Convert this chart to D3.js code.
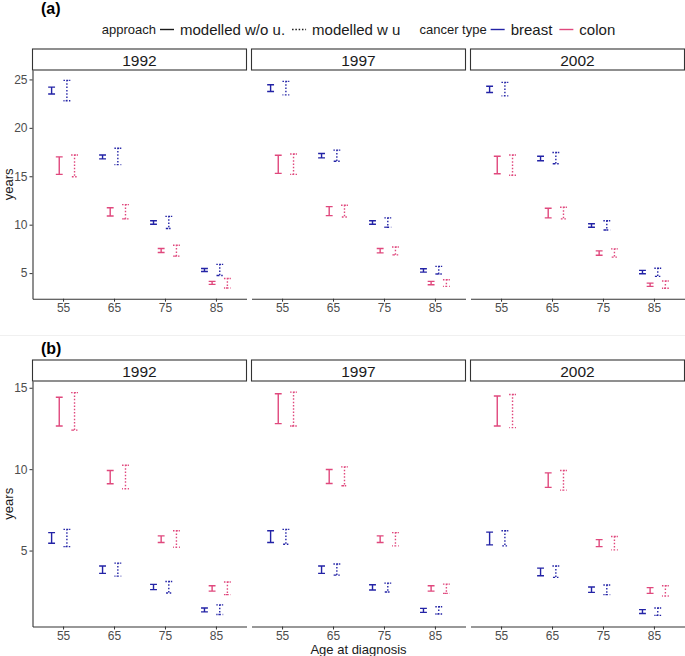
<!DOCTYPE html>
<html><head><meta charset="utf-8">
<script src="https://cdn.jsdelivr.net/npm/d3@7"></script>
<style>body{margin:0;background:#fff} svg{display:block} text{font-family:"Liberation Sans",Arial,sans-serif}</style>
</head><body><svg id="c" width="685" height="656"></svg>
<script>
// ---------- data ----------
const years = ["1992", "1997", "2002"];
const ages = ["55", "65", "75", "85"];
const cancers = ["breast", "colon"];
const approaches = ["modelled w/o u.", "modelled w u"];
const yTicksA = [5, 10, 15, 20, 25];
const yTicksB = [5, 10, 15];

// each row = one year (1992, 1997, 2002); each pair = [lower, upper] per age 55,65,75,85
// (a)
const aBreastWo = [
  [[23.5, 24.2], [16.8, 17.2], [10.04, 10.4], [5.17, 5.48]],
  [[23.76, 24.45], [16.9, 17.35], [10.04, 10.4], [5.1, 5.45]],
  [[23.65, 24.3], [16.6, 17.07], [9.73, 10.1], [4.93, 5.28]]
];
const aBreastWu = [
  [[22.8, 24.9], [16.2, 17.9], [9.6, 10.86], [4.76, 5.9]],
  [[23.4, 24.8], [16.55, 17.7], [9.73, 10.7], [4.9, 5.69]],
  [[23.3, 24.7], [16.3, 17.45], [9.45, 10.4], [4.66, 5.5]]
];
const aColonWo = [
  [[15.2, 17.0], [10.9, 11.75], [7.13, 7.54], [3.84, 4.15]],
  [[15.3, 17.17], [10.94, 11.86], [7.09, 7.54], [3.8, 4.15]],
  [[15.26, 17.07], [10.7, 11.7], [6.85, 7.3], [3.63, 3.97]]
];
const aColonWu = [
  [[14.95, 17.2], [10.6, 12.07], [6.75, 7.88], [3.46, 4.45]],
  [[15.2, 17.3], [10.8, 12.0], [6.88, 7.7], [3.63, 4.31]],
  [[15.1, 17.2], [10.6, 11.8], [6.65, 7.5], [3.43, 4.18]]
];
// (b)
const bBreastWo = [
  [[5.45, 6.1], [3.6, 4.05], [2.6, 2.92], [1.23, 1.47]],
  [[5.49, 6.22], [3.6, 4.05], [2.58, 2.9], [1.2, 1.45]],
  [[5.35, 6.13], [3.45, 3.92], [2.43, 2.76], [1.13, 1.37]]
];
const bBreastWu = [
  [[5.24, 6.3], [3.43, 4.23], [2.39, 3.1], [1.07, 1.66]],
  [[5.39, 6.3], [3.49, 4.17], [2.45, 3.0], [1.1, 1.55]],
  [[5.29, 6.22], [3.35, 4.05], [2.29, 2.88], [1.02, 1.47]]
];
const bColonWo = [
  [[12.65, 14.42], [9.1, 9.92], [5.49, 5.9], [2.51, 2.84]],
  [[12.8, 14.63], [9.12, 9.98], [5.49, 5.9], [2.51, 2.84]],
  [[12.65, 14.49], [8.88, 9.77], [5.24, 5.67], [2.37, 2.72]]
];
const bColonWu = [
  [[12.4, 14.7], [8.8, 10.24], [5.2, 6.22], [2.29, 3.07]],
  [[12.65, 14.73], [8.98, 10.14], [5.29, 6.1], [2.37, 2.94]],
  [[12.55, 14.59], [8.71, 9.92], [5.04, 5.86], [2.21, 2.84]]
];

// ---------- styles ----------
const colorScale = d3.scaleOrdinal().domain(cancers).range(["#2323a6", "#e0487d"]);
const dashScale = d3.scaleOrdinal().domain(approaches).range([null, "1.5,1.8"]);
const lineW = 1.4;

const svg = d3.select("#c");
svg.append("rect").attr("width", 685).attr("height", 656).attr("fill", "#fff");

const panelW = 214, gap = 5, left0 = 32.5, stripH = 21;
const x = d3.scalePoint().domain(ages).range([0, panelW]).padding(0.6);
const dodgeW = 0.15 * x.step();
const capW = 0.9 * dodgeW;
// dodge order: (w/o, breast), (w/o, colon), (w u, breast), (w u, colon)
const groupOrder = [];
approaches.forEach(a => cancers.forEach(c => groupOrder.push(a + "|" + c)));
const dodge = d3.scaleBand().domain(groupOrder).range([-2 * dodgeW, 2 * dodgeW]);

function buildRows(series) {
  const rows = [];
  series.forEach(s => {
    s.vals.forEach((yr, yi) => {
      yr.forEach((pr, ai) => {
        rows.push({year: years[yi], age: ages[ai], cancer: s.cancer, appr: s.appr, lo: pr[0], hi: pr[1]});
      });
    });
  });
  return rows;
}

function styleAxis(ax) {
  ax.select(".domain").attr("stroke", "#333").attr("stroke-width", 1.1);
  ax.selectAll(".tick line").attr("stroke", "#333").attr("stroke-width", 1);
  ax.selectAll(".tick text").attr("font-size", 12).attr("fill", "#4d4d4d")
    .attr("font-family", "Liberation Sans, Arial, sans-serif");
}

function drawFigure(rows, ticks, stripTop, axisY, label, labelBaseline) {
  const panelTop = stripTop + stripH;
  const lo = d3.min(rows, d => d.lo), hi = d3.max(rows, d => d.hi);
  const pad = 0.05 * (hi - lo);
  const y = d3.scaleLinear().domain([lo - pad, hi + pad]).range([axisY, panelTop]);

  svg.append("text").attr("x", 41).attr("y", labelBaseline)
    .attr("font-size", 16).attr("font-weight", "bold").attr("fill", "#000").text(label);

  years.forEach((yr, i) => {
    const left = left0 + i * (panelW + gap);
    const g = svg.append("g").attr("transform", `translate(${left},0)`);
    // strip
    g.append("rect").attr("x", 0).attr("y", stripTop).attr("width", panelW).attr("height", stripH)
      .attr("fill", "#fff").attr("stroke", "#333").attr("stroke-width", 1.1);
    g.append("text").attr("x", panelW / 2).attr("y", stripTop + stripH / 2 + 0.5)
      .attr("text-anchor", "middle").attr("dominant-baseline", "central")
      .attr("font-size", 15.5).attr("fill", "#1a1a1a").text(yr);

    // error bars
    const data = rows.filter(d => d.year === yr);
    g.selectAll("path.eb").data(data).enter().append("path").attr("class", "eb")
      .attr("d", d => {
        const cx = x(d.age) + dodge(d.appr + "|" + d.cancer) + dodge.bandwidth() / 2;
        const x0 = cx - capW / 2, x1 = cx + capW / 2;
        const yh = y(d.hi), yl = y(d.lo);
        return `M${x0},${yh}L${x1},${yh}L${cx},${yh}L${cx},${yl}L${x0},${yl}L${x1},${yl}`;
      })
      .attr("fill", "none")
      .attr("stroke", d => colorScale(d.cancer))
      .attr("stroke-width", lineW)
      .attr("stroke-dasharray", d => dashScale(d.appr));

    // x axis
    const xa = g.append("g").attr("transform", `translate(0,${axisY})`)
      .call(d3.axisBottom(x).tickSize(3).tickSizeOuter(0).tickPadding(1.5));
    styleAxis(xa);

    if (i === 0) {
      const ya = g.append("g")
        .call(d3.axisLeft(y).tickValues(ticks).tickSize(3).tickSizeOuter(0).tickPadding(2));
      styleAxis(ya);
    }
  });

  // y title
  svg.append("text")
    .attr("transform", `translate(12.5,${(panelTop + axisY) / 2}) rotate(-90)`)
    .attr("text-anchor", "middle").attr("font-size", 13).attr("fill", "#1a1a1a").text("years");
}

const rowsA = buildRows([
  {cancer: "breast", appr: approaches[0], vals: aBreastWo},
  {cancer: "breast", appr: approaches[1], vals: aBreastWu},
  {cancer: "colon", appr: approaches[0], vals: aColonWo},
  {cancer: "colon", appr: approaches[1], vals: aColonWu}
]);
const rowsB = buildRows([
  {cancer: "breast", appr: approaches[0], vals: bBreastWo},
  {cancer: "breast", appr: approaches[1], vals: bBreastWu},
  {cancer: "colon", appr: approaches[0], vals: bColonWo},
  {cancer: "colon", appr: approaches[1], vals: bColonWu}
]);

// faint separator between the two figures
svg.append("line").attr("x1", 0).attr("x2", 685).attr("y1", 335.5).attr("y2", 335.5)
  .attr("stroke", "#f0f0f0").attr("stroke-width", 1);

drawFigure(rowsA, yTicksA, 49, 298.7, "(a)", 14);
drawFigure(rowsB, yTicksB, 360, 626.5, "(b)", 354);

// x title
svg.append("text").attr("x", left0 + (3 * panelW + 2 * gap) / 2).attr("y", 654)
  .attr("text-anchor", "middle").attr("font-size", 13).attr("fill", "#1a1a1a").text("Age at diagnosis");

// ---------- legend ----------
const legY = 29.5;
const leg = svg.append("g");
let cx = 0;
function addTitle(t) {
  const el = leg.append("text").attr("x", cx).attr("y", legY).attr("dominant-baseline", "central")
    .attr("font-size", 13).attr("fill", "#1a1a1a").text(t);
  cx += el.node().getComputedTextLength() + 4;
}
function addItem(t, color, dash) {
  leg.append("line").attr("x1", cx).attr("x2", cx + 14).attr("y1", legY).attr("y2", legY)
    .attr("stroke", color).attr("stroke-width", lineW).attr("stroke-dasharray", dash);
  cx += 14 + 6;
  const el = leg.append("text").attr("x", cx).attr("y", legY).attr("dominant-baseline", "central")
    .attr("font-size", 15).attr("fill", "#1a1a1a").text(t);
  cx += el.node().getComputedTextLength() + 7;
}
addTitle("approach");
approaches.forEach(a => addItem(a, "#1a1a1a", dashScale(a)));
cx += 12;
addTitle("cancer type");
cancers.forEach(c => addItem(c, colorScale(c), null));
const legWidth = cx - 7;
const centerX = left0 + (3 * panelW + 2 * gap) / 2;
leg.attr("transform", `translate(${centerX - legWidth / 2},0)`);
</script>
</body></html>
